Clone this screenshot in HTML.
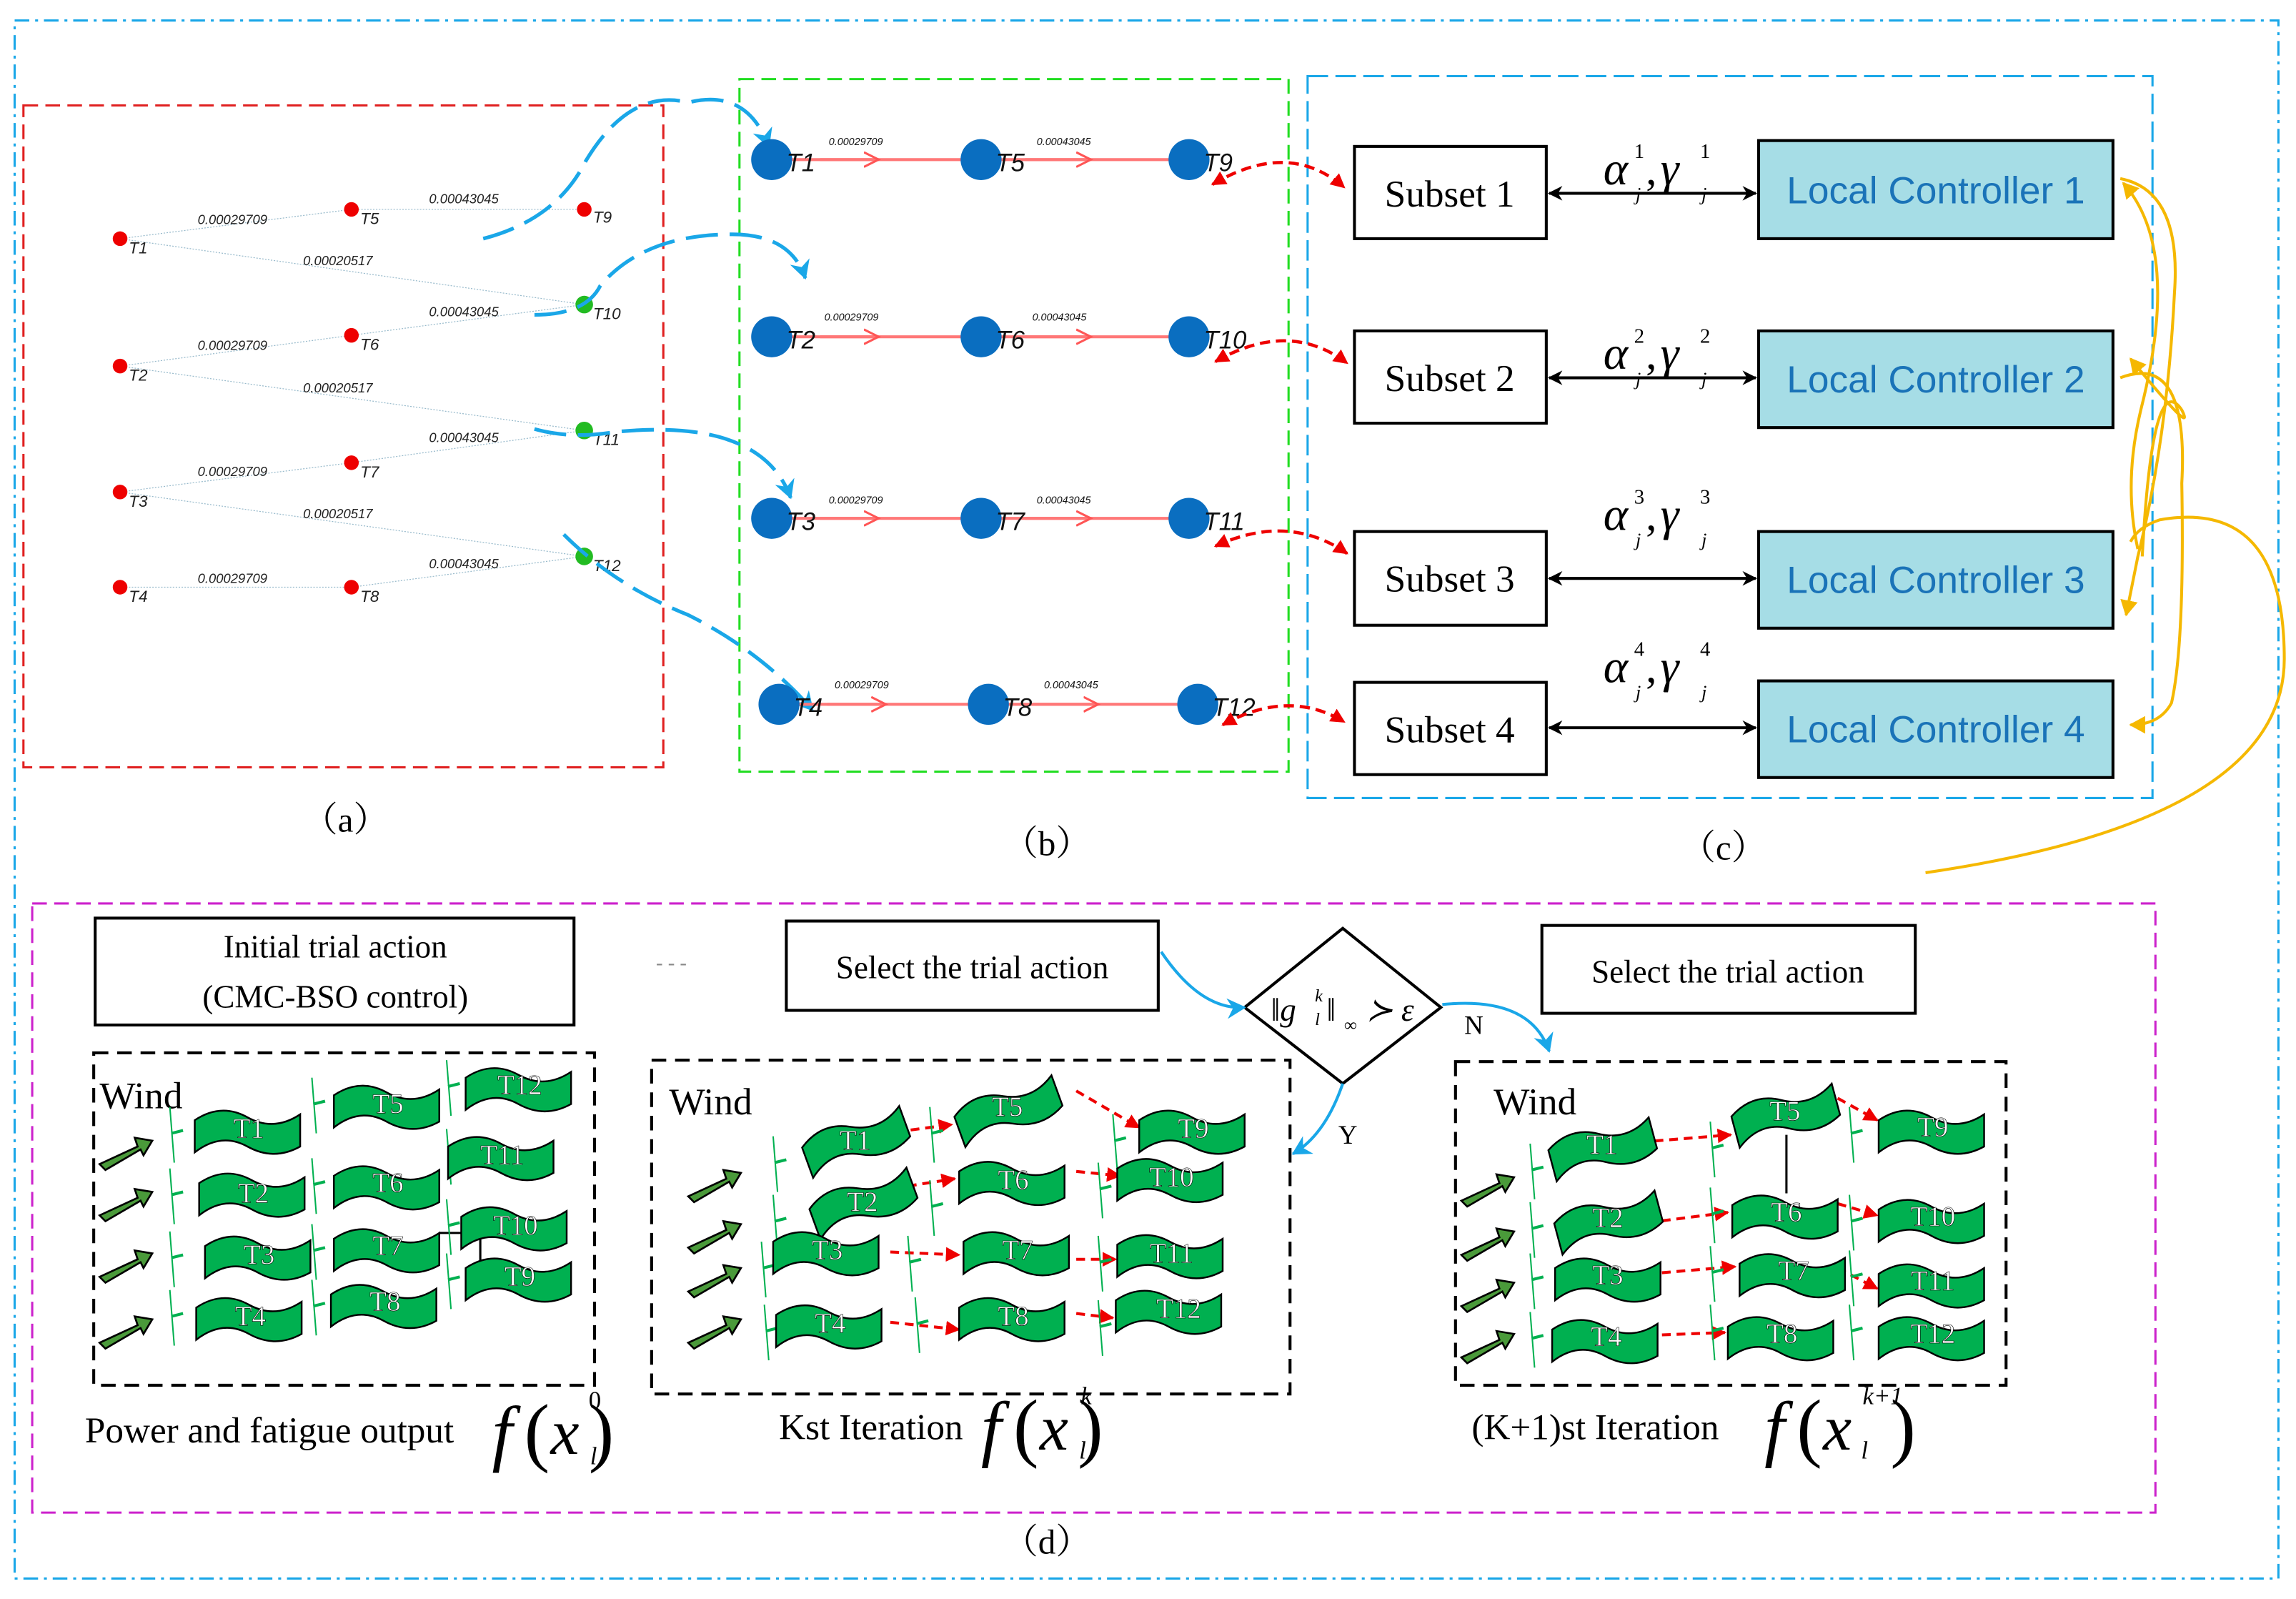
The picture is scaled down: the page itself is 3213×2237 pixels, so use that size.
<!DOCTYPE html>
<html><head><meta charset="utf-8"><style>html,body{margin:0;padding:0;background:#fff}svg{display:block}</style></head><body>
<svg xmlns="http://www.w3.org/2000/svg" width="3213" height="2237" viewBox="0 0 1568 1092" preserveAspectRatio="none" font-family="Liberation Serif, serif">
<defs>
<marker id="ab" markerWidth="10" markerHeight="10" refX="9" refY="5" orient="auto-start-reverse" markerUnits="userSpaceOnUse"><path d="M0,0 L10,5 L0,10 L3,5 Z" fill="#000"/></marker>
<marker id="ar" markerWidth="10" markerHeight="10" refX="9" refY="5" orient="auto-start-reverse" markerUnits="userSpaceOnUse"><path d="M0,0 L10,5 L0,10 Z" fill="#e00"/></marker>
<marker id="ac" markerWidth="14" markerHeight="14" refX="12" refY="7" orient="auto" markerUnits="userSpaceOnUse"><path d="M0,0 L13,7 L0,14 L4,7 Z" fill="#1aa7e8"/></marker>
<marker id="ao" markerWidth="12" markerHeight="12" refX="10" refY="6" orient="auto" markerUnits="userSpaceOnUse"><path d="M0,0 L11,6 L0,12 Z" fill="#f5b800"/></marker>
<marker id="ap" markerWidth="12" markerHeight="12" refX="10" refY="6" orient="auto" markerUnits="userSpaceOnUse"><path d="M0,1 L10,6 L0,11" fill="none" stroke="#f55" stroke-width="1.5"/></marker>
<path id="flag" d="M0,8 Q18,-4 36,6 T72,4 L72,26 Q54,36 36,26 T0,30 Z" fill="#00b050" stroke="#000" stroke-width="1.2"/>
<g id="warr"><path d="M0,12 L26,0 L24,-6 L36,-4 L30,6 L28,2 L4,16 Z" fill="#4a9a3a" stroke="#000" stroke-width="1.3"/></g>
<g id="tow"><line x1="0" y1="-14" x2="3" y2="24" stroke="#00b050" stroke-width="1"/><line x1="1" y1="4" x2="9" y2="2" stroke="#00b050" stroke-width="2"/></g>
</defs>
<rect width="1568" height="1092" fill="#fff"/>
<rect x="10" y="14" width="1546" height="1064" fill="none" stroke="#1aa7e8" stroke-width="1.5" stroke-dasharray="10,4,2,4"/>
<rect x="16" y="72" width="437" height="452" fill="none" stroke="#e02020" stroke-width="1.5" stroke-dasharray="10,5"/>
<rect x="505" y="54" width="375" height="473" fill="none" stroke="#22dd22" stroke-width="1.5" stroke-dasharray="10,5"/>
<rect x="893" y="52" width="577" height="493" fill="none" stroke="#1aa7e8" stroke-width="1.5" stroke-dasharray="14,5"/>
<rect x="22" y="617" width="1450" height="416" fill="none" stroke="#cc22cc" stroke-width="1.5" stroke-dasharray="10,5"/>
<g font-size="24" text-anchor="middle" font-family="Liberation Serif, 'Noto Serif CJK SC', serif">
<text x="236" y="568">（a）</text><text x="715" y="584">（b）</text><text x="1177" y="587">（c）</text><text x="715" y="1061">（d）</text></g>
<!-- (a) -->
<g stroke="#9bc" stroke-width="0.6" stroke-dasharray="1,1" fill="none">
<path d="M82,163 L240,143 L399,143 M82,163 L399,208 M82,250 L240,229 L399,208 M82,250 L399,294 M82,336 L240,316 L399,294 M82,336 L399,380 M82,401 L240,401 L399,380"/>
</g>
<g fill="#e00"><circle cx="82" cy="163" r="5"/><circle cx="240" cy="143" r="5"/><circle cx="399" cy="143" r="5"/><circle cx="82" cy="250" r="5"/><circle cx="240" cy="229" r="5"/><circle cx="82" cy="336" r="5"/><circle cx="240" cy="316" r="5"/><circle cx="82" cy="401" r="5"/><circle cx="240" cy="401" r="5"/></g>
<g fill="#2b2"><circle cx="399" cy="208" r="6"/><circle cx="399" cy="294" r="6"/><circle cx="399" cy="380" r="6"/></g>
<g font-family="Liberation Sans, sans-serif" font-style="italic" font-size="11" fill="#222">
<text x="88" y="173">T1</text><text x="246" y="153">T5</text><text x="405" y="152">T9</text>
<text x="88" y="260">T2</text><text x="246" y="239">T6</text><text x="405" y="218">T10</text>
<text x="88" y="346">T3</text><text x="246" y="326">T7</text><text x="405" y="304">T11</text>
<text x="88" y="411">T4</text><text x="246" y="411">T8</text><text x="405" y="390">T12</text>
<g font-size="9"><text x="135" y="153">0.00029709</text><text x="293" y="139">0.00043045</text><text x="207" y="181">0.00020517</text>
<text x="135" y="239">0.00029709</text><text x="293" y="216">0.00043045</text><text x="207" y="268">0.00020517</text>
<text x="135" y="325">0.00029709</text><text x="293" y="302">0.00043045</text><text x="207" y="354">0.00020517</text>
<text x="135" y="398">0.00029709</text><text x="293" y="388">0.00043045</text></g></g>
<!-- cyan dashed connectors -->
<g fill="none" stroke="#1aa7e8" stroke-width="2.5" stroke-dasharray="22,8">
<path d="M330,163 Q380,150 400,110 Q430,60 470,70 Q510,60 525,100" marker-end="url(#ac)"/>
<path d="M365,215 Q400,215 410,195 Q440,160 500,160 Q540,160 550,190" marker-end="url(#ac)"/>
<path d="M365,293 Q390,300 420,295 Q520,285 540,340" marker-end="url(#ac)"/>
<path d="M385,365 Q420,400 470,420 Q520,445 555,485" marker-end="url(#ac)"/>
</g>
<!-- (b) -->
<g stroke="#f77" stroke-width="2" fill="none">
<line x1="527" y1="109" x2="812" y2="109"/><line x1="527" y1="230" x2="812" y2="230"/><line x1="527" y1="354" x2="812" y2="354"/><line x1="532" y1="481" x2="818" y2="481"/>
<g marker-end="url(#ap)"><line x1="560" y1="109" x2="600" y2="109"/><line x1="700" y1="109" x2="745" y2="109"/><line x1="560" y1="230" x2="600" y2="230"/><line x1="700" y1="230" x2="745" y2="230"/><line x1="560" y1="354" x2="600" y2="354"/><line x1="700" y1="354" x2="745" y2="354"/><line x1="565" y1="481" x2="605" y2="481"/><line x1="705" y1="481" x2="750" y2="481"/></g>
</g>
<g fill="#0a6ec0">
<circle cx="527" cy="109" r="14"/><circle cx="670" cy="109" r="14"/><circle cx="812" cy="109" r="14"/>
<circle cx="527" cy="230" r="14"/><circle cx="670" cy="230" r="14"/><circle cx="812" cy="230" r="14"/>
<circle cx="527" cy="354" r="14"/><circle cx="670" cy="354" r="14"/><circle cx="812" cy="354" r="14"/>
<circle cx="532" cy="481" r="14"/><circle cx="675" cy="481" r="14"/><circle cx="818" cy="481" r="14"/></g>
<g font-family="Liberation Sans, sans-serif" font-style="italic" font-size="17" fill="#111">
<text x="537" y="117">T1</text><text x="680" y="117">T5</text><text x="822" y="117">T9</text>
<text x="537" y="238">T2</text><text x="680" y="238">T6</text><text x="822" y="238">T10</text>
<text x="537" y="362">T3</text><text x="680" y="362">T7</text><text x="822" y="362">T11</text>
<text x="542" y="489">T4</text><text x="685" y="489">T8</text><text x="828" y="489">T12</text>
<g font-size="7"><text x="566" y="99">0.00029709</text><text x="708" y="99">0.00043045</text><text x="563" y="219">0.00029709</text><text x="705" y="219">0.00043045</text><text x="566" y="344">0.00029709</text><text x="708" y="344">0.00043045</text><text x="570" y="470">0.00029709</text><text x="713" y="470">0.00043045</text></g></g>
<!-- red dashed -->
<g fill="none" stroke="#e00" stroke-width="2.2" stroke-dasharray="7,4" marker-start="url(#ar)" marker-end="url(#ar)">
<path d="M828,126 Q880,95 918,128"/><path d="M830,247 Q880,218 920,248"/><path d="M830,373 Q880,350 920,378"/><path d="M835,495 Q880,470 918,493"/></g>
<!-- (c) -->
<g fill="#fff" stroke="#000" stroke-width="2"><rect x="925" y="100" width="131" height="63"/><rect x="925" y="226" width="131" height="63"/><rect x="925" y="363" width="131" height="64"/><rect x="925" y="466" width="131" height="63"/></g>
<g fill="#a6dde6" stroke="#000" stroke-width="2"><rect x="1201" y="96" width="242" height="67"/><rect x="1201" y="226" width="242" height="66"/><rect x="1201" y="363" width="242" height="66"/><rect x="1201" y="465" width="242" height="66"/></g>
<g font-size="26" text-anchor="middle"><text x="990" y="141">Subset 1</text><text x="990" y="267">Subset 2</text><text x="990" y="404">Subset 3</text><text x="990" y="507">Subset 4</text></g>
<g font-size="26" text-anchor="middle" fill="#1a73b8" font-family="Liberation Sans, sans-serif"><text x="1322" y="139">Local Controller 1</text><text x="1322" y="268">Local Controller 2</text><text x="1322" y="405">Local Controller 3</text><text x="1322" y="507">Local Controller 4</text></g>
<g stroke="#000" stroke-width="2" marker-start="url(#ab)" marker-end="url(#ab)"><line x1="1058" y1="132" x2="1199" y2="132"/><line x1="1058" y1="258" x2="1199" y2="258"/><line x1="1058" y1="395" x2="1199" y2="395"/><line x1="1058" y1="497" x2="1199" y2="497"/></g>
<g font-style="italic">
<g transform="translate(0,0)"><text x="1095" y="126" font-size="32">α</text><text x="1116" y="108" font-size="14" font-style="normal">1</text><text x="1117" y="137" font-size="13">j</text><text x="1124" y="126" font-size="30" font-style="normal">,</text><text x="1134" y="126" font-size="32">γ</text><text x="1161" y="108" font-size="14" font-style="normal">1</text><text x="1162" y="137" font-size="13">j</text></g>
<g transform="translate(0,126)"><text x="1095" y="126" font-size="32">α</text><text x="1116" y="108" font-size="14" font-style="normal">2</text><text x="1117" y="137" font-size="13">j</text><text x="1124" y="126" font-size="30" font-style="normal">,</text><text x="1134" y="126" font-size="32">γ</text><text x="1161" y="108" font-size="14" font-style="normal">2</text><text x="1162" y="137" font-size="13">j</text></g>
<g transform="translate(0,236)"><text x="1095" y="126" font-size="32">α</text><text x="1116" y="108" font-size="14" font-style="normal">3</text><text x="1117" y="137" font-size="13">j</text><text x="1124" y="126" font-size="30" font-style="normal">,</text><text x="1134" y="126" font-size="32">γ</text><text x="1161" y="108" font-size="14" font-style="normal">3</text><text x="1162" y="137" font-size="13">j</text></g>
<g transform="translate(0,340)"><text x="1095" y="126" font-size="32">α</text><text x="1116" y="108" font-size="14" font-style="normal">4</text><text x="1117" y="137" font-size="13">j</text><text x="1124" y="126" font-size="30" font-style="normal">,</text><text x="1134" y="126" font-size="32">γ</text><text x="1161" y="108" font-size="14" font-style="normal">4</text><text x="1162" y="137" font-size="13">j</text></g>
</g>
<!-- orange -->
<g fill="none" stroke="#f5b800" stroke-width="2">
<path d="M1448,122 Q1490,130 1485,200 Q1480,300 1460,380 L1452,420" marker-end="url(#ao)"/>
<path d="M1460,375 Q1450,330 1462,280 Q1490,170 1450,125" marker-end="url(#ao)"/>
<path d="M1448,258 Q1495,240 1490,330 Q1492,440 1483,480 Q1475,495 1455,495" marker-end="url(#ao)"/>
<path d="M1463,380 Q1470,250 1490,280 Q1500,300 1455,245" marker-end="url(#ao)"/>
<path d="M1315,596 Q1560,560 1560,450 Q1560,340 1475,355 Q1460,360 1455,370"/>
</g>
<!-- (d) top -->
<g fill="#fff" stroke="#000" stroke-width="2"><rect x="65" y="627" width="327" height="73"/><rect x="537" y="629" width="254" height="61"/><rect x="1053" y="632" width="255" height="60"/>
<path d="M917,634 L984,688 L917,740 L850,688 Z"/></g>
<g font-size="22" text-anchor="middle"><text x="229" y="654">Initial trial action</text><text x="229" y="688">(CMC-BSO control)</text><text x="664" y="668">Select the trial action</text><text x="1180" y="671">Select the trial action</text></g>
<text x="448" y="662" font-size="14" fill="#888">- - -</text>
<g font-size="22" font-style="italic"><text x="868" y="697">‖g</text><text x="898" y="684" font-size="12">k</text><text x="898" y="700" font-size="12">l</text><text x="906" y="697">‖</text><text x="918" y="704" font-size="12">∞</text><text x="933" y="697">≻ ε</text></g>
<g font-size="18"><text x="1000" y="706">N</text><text x="914" y="781">Y</text></g>
<g fill="none" stroke="#1aa7e8" stroke-width="2"><path d="M793,650 Q820,690 850,688" marker-end="url(#ac)"/><path d="M985,686 Q1045,680 1058,718" marker-end="url(#ac)"/><path d="M917,740 Q905,775 883,788" marker-end="url(#ac)"/></g>
<g fill="none" stroke="#000" stroke-width="2" stroke-dasharray="10,6"><rect x="64" y="719" width="342" height="227"/><rect x="445" y="724" width="436" height="228"/><rect x="994" y="725" width="376" height="221"/></g>
<g font-size="26"><text x="68" y="757">Wind</text><text x="457" y="761">Wind</text><text x="1020" y="761">Wind</text></g>
<g><use href="#warr" x="68" y="783"/><use href="#warr" x="68" y="818"/><use href="#warr" x="68" y="860"/><use href="#warr" x="68" y="905"/>
<use href="#warr" x="470" y="805"/><use href="#warr" x="470" y="840"/><use href="#warr" x="470" y="870"/><use href="#warr" x="470" y="905"/>
<use href="#warr" x="998" y="808"/><use href="#warr" x="998" y="845"/><use href="#warr" x="998" y="880"/><use href="#warr" x="998" y="915"/></g>
<g stroke="#e00" stroke-width="2" stroke-dasharray="6,4" fill="none" marker-end="url(#ar)">
<path d="M612,773 L650,768"/><path d="M735,745 L778,770"/><path d="M620,810 L652,805"/><path d="M735,800 L765,803"/><path d="M608,855 L655,857"/><path d="M735,860 L762,860"/><path d="M608,903 L655,908"/><path d="M735,897 L760,900"/>
<path d="M1120,780 L1182,775"/><path d="M1255,750 L1282,765"/><path d="M1125,835 L1180,828"/><path d="M1125,870 L1185,865"/><path d="M1255,866 L1282,880"/><path d="M1125,912 L1178,910"/><path d="M1255,822 L1282,830"/>
</g>
<line x1="1220" y1="775" x2="1220" y2="815" stroke="#000" stroke-width="1.5"/>
<path d="M300,842 L328,842 L328,868" stroke="#000" stroke-width="1.5" fill="none"/>
<g>
<use href="#tow" x="116" y="770"/><use href="#flag" x="133" y="757"/><use href="#tow" x="213" y="750"/><use href="#flag" x="228" y="740"/><use href="#tow" x="305" y="738"/><use href="#flag" x="318" y="728"/>
<use href="#tow" x="116" y="812"/><use href="#flag" x="136" y="800"/><use href="#tow" x="213" y="805"/><use href="#flag" x="228" y="795"/><use href="#tow" x="305" y="785"/><use href="#flag" x="306" y="775"/>
<use href="#tow" x="116" y="855"/><use href="#flag" x="140" y="843"/><use href="#tow" x="213" y="850"/><use href="#flag" x="228" y="838"/><use href="#tow" x="305" y="833"/><use href="#flag" x="315" y="823"/>
<use href="#tow" x="116" y="895"/><use href="#flag" x="134" y="885"/><use href="#tow" x="213" y="888"/><use href="#flag" x="226" y="876"/><use href="#tow" x="305" y="870"/><use href="#flag" x="318" y="858"/>
<use href="#tow" x="528" y="790"/><use href="#flag" x="548" y="763" transform="rotate(-20 584 778)"/><use href="#tow" x="635" y="770"/><use href="#flag" x="652" y="742" transform="rotate(-20 688 757)"/><use href="#tow" x="760" y="775"/><use href="#flag" x="778" y="757"/>
<use href="#tow" x="528" y="830"/><use href="#flag" x="553" y="805" transform="rotate(-20 589 820)"/><use href="#tow" x="635" y="820"/><use href="#flag" x="655" y="792"/><use href="#tow" x="750" y="808"/><use href="#flag" x="763" y="790"/>
<use href="#tow" x="520" y="862"/><use href="#flag" x="528" y="840"/><use href="#tow" x="620" y="858"/><use href="#flag" x="658" y="840"/><use href="#tow" x="750" y="858"/><use href="#flag" x="763" y="842"/>
<use href="#tow" x="522" y="905"/><use href="#flag" x="530" y="890"/><use href="#tow" x="625" y="900"/><use href="#flag" x="655" y="885"/><use href="#tow" x="750" y="902"/><use href="#flag" x="762" y="880"/>
<use href="#tow" x="1045" y="795"/><use href="#flag" x="1058" y="768" transform="rotate(-15 1094 783)"/><use href="#tow" x="1168" y="780"/><use href="#flag" x="1183" y="745" transform="rotate(-15 1219 760)"/><use href="#tow" x="1263" y="770"/><use href="#flag" x="1283" y="757"/>
<use href="#tow" x="1045" y="835"/><use href="#flag" x="1062" y="818" transform="rotate(-15 1098 833)"/><use href="#tow" x="1168" y="825"/><use href="#flag" x="1183" y="815"/><use href="#tow" x="1263" y="830"/><use href="#flag" x="1283" y="818"/>
<use href="#tow" x="1045" y="870"/><use href="#flag" x="1062" y="858"/><use href="#tow" x="1168" y="865"/><use href="#flag" x="1188" y="855"/><use href="#tow" x="1263" y="868"/><use href="#flag" x="1283" y="862"/>
<use href="#tow" x="1045" y="910"/><use href="#flag" x="1060" y="900"/><use href="#tow" x="1168" y="905"/><use href="#flag" x="1180" y="898"/><use href="#tow" x="1263" y="905"/><use href="#flag" x="1283" y="898"/>
</g>
<g font-size="19" fill="#fff" text-anchor="middle" stroke="#000" stroke-width="0.3">
<text x="170" y="777">T1</text><text x="265" y="760">T5</text><text x="355" y="747">T12</text>
<text x="173" y="821">T2</text><text x="265" y="814">T6</text><text x="343" y="795">T11</text>
<text x="177" y="863">T3</text><text x="265" y="857">T7</text><text x="352" y="843">T10</text>
<text x="171" y="905">T4</text><text x="263" y="895">T8</text><text x="355" y="878">T9</text>
<text x="584" y="785">T1</text><text x="688" y="762">T5</text><text x="815" y="777">T9</text>
<text x="589" y="827">T2</text><text x="692" y="812">T6</text><text x="800" y="810">T10</text>
<text x="565" y="860">T3</text><text x="695" y="860">T7</text><text x="800" y="862">T11</text>
<text x="567" y="910">T4</text><text x="692" y="905">T8</text><text x="805" y="900">T12</text>
<text x="1094" y="788">T1</text><text x="1219" y="765">T5</text><text x="1320" y="776">T9</text>
<text x="1098" y="838">T2</text><text x="1220" y="834">T6</text><text x="1320" y="837">T10</text>
<text x="1098" y="877">T3</text><text x="1225" y="874">T7</text><text x="1320" y="881">T11</text>
<text x="1097" y="919">T4</text><text x="1217" y="917">T8</text><text x="1320" y="917">T12</text>
</g>
<!-- bottom labels -->
<g font-size="25"><text x="58" y="985">Power and fatigue output</text><text x="532" y="983">Kst Iteration</text><text x="1005" y="983">(K+1)st Iteration</text></g>
<g font-family="Liberation Serif, serif">
<g transform="translate(336,0)"><text x="0" y="995" font-size="50" font-style="italic">f</text><text x="22" y="995" font-size="52">(</text><text x="40" y="993" font-size="44" font-style="italic">x</text><text x="66" y="995" font-size="52">)</text></g>
<g transform="translate(670,-3)"><text x="0" y="995" font-size="50" font-style="italic">f</text><text x="22" y="995" font-size="52">(</text><text x="40" y="993" font-size="44" font-style="italic">x</text><text x="66" y="995" font-size="52">)</text></g>
<g transform="translate(1205,-3)"><text x="0" y="995" font-size="50" font-style="italic">f</text><text x="22" y="995" font-size="52">(</text><text x="40" y="993" font-size="44" font-style="italic">x</text><text x="86" y="995" font-size="52">)</text></g>
</g>
<g font-size="17" font-style="italic"><text x="402" y="962" font-style="normal">0</text><text x="403" y="1000">l</text><text x="738" y="959">k</text><text x="737" y="996">l</text><text x="1272" y="959">k+1</text><text x="1271" y="996">l</text></g>
</svg>
</body></html>
